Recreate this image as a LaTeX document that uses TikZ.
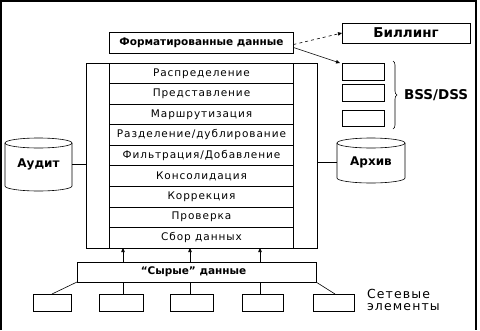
\documentclass[tikz,border=0pt]{standalone}
\usepackage{fontspec}
\setmainfont{DejaVu Sans}
\newfontfamily\rowfont[LetterSpace=9]{DejaVu Sans}
\usetikzlibrary{arrows.meta,decorations.pathreplacing}
\begin{document}
\begin{tikzpicture}[x=1pt,y=-1pt,
  every node/.style={inner sep=0pt, outer sep=0pt},
  box/.style={draw, line width=0.7pt, rectangle},
  rowbox/.style={box, minimum width=184pt, minimum height=20.55pt, font=\rowfont\fontsize{10.5}{12}\selectfont},
  headbox/.style={box, font=\bfseries\fontsize{10.5}{12}\selectfont},
  smallbox/.style={box, minimum width=42pt},
  nebox/.style={box, minimum height=17pt},
  conn/.style={line width=0.6pt},
  uparrow/.style={conn, -{Triangle[length=4pt,width=3.5pt]}},
  cyltext/.style={font=\bfseries\fontsize{12}{14}\selectfont}
]
\useasboundingbox (0,0) rectangle (480,330);
\draw[line width=1.6pt] (1,330) -- (1,0.8) -- (476,0.8) -- (476,330);

% main stack
\node[box, minimum width=231pt, minimum height=185pt] (outer) at (201.5,155.5) {};
\foreach \t [count=\i from 0] in {Распределение,Представление,Маршрутизация,Разделение/дублирование,Фильтрация/Добавление,Консолидация,Коррекция,Проверка,Сбор данных}{
  \node[rowbox, fill=white] (r\i) at (201.5,{63+20.55*(\i+0.5)}) {\t};
}

% formatted data
\node[headbox, minimum width=184pt, minimum height=21pt] (fmt) at (201.5,42.5) {Форматированные данные};
\node[box, minimum width=128pt, minimum height=20pt, font=\bfseries\fontsize{13.5}{15}\selectfont] (bill) at (406,33) {Биллинг};
\node[smallbox, minimum height=17pt] (b1) at (363,71.5) {};
\node[smallbox, minimum height=17pt] (b2) at (363,92.5) {};
\node[smallbox, minimum height=16pt] (b3) at (363,118) {};
\draw[conn, decorate, decoration={brace, amplitude=4pt}] (393,61) -- (393,129) coordinate[midway] (bm);
\node[anchor=west, font=\bfseries\fontsize{13.5}{15}\selectfont] (bss) at (404,95) {BSS/DSS};

\draw[conn, dashed, -{Triangle[length=4pt,width=3.5pt]}] ([yshift=-2pt]fmt.east) -- (bill.west);
\draw[conn, -{Triangle[length=4pt,width=3.5pt]}] ([yshift=-5pt]fmt.east) -- ([xshift=-2pt]b1.north west);

% cylinders
\node[cyltext, minimum width=67pt, minimum height=20pt] (audit) at (38.5,164) {Аудит};
\draw[conn] (38.5,143) ellipse (33.5pt and 5pt);
\draw[conn] (5,143) -- (5,186) arc[start angle=180, end angle=360, x radius=33.5pt, y radius=5pt] -- (72,143);
\node[cyltext, minimum width=68pt, minimum height=20pt] (arch) at (371,162) {Архив};
\draw[conn] (371,143) ellipse (34pt and 5pt);
\draw[conn] (337,143) -- (337,178) arc[start angle=180, end angle=360, x radius=34pt, y radius=5pt] -- (405,143);
\draw[conn] (audit.east) -- (audit.east -| outer.west);
\draw[conn] (arch.west) -- (arch.west -| outer.east);

% raw data
\node[headbox, minimum width=239pt, minimum height=20pt, font=\bfseries\fontsize{10.5}{12}\selectfont] (raw) at (196.5,272) {\kern-6pt“Сырые” данные};
\foreach \x in {123,190,260}{
  \draw[uparrow] (raw.north -| \x,0) -- (outer.south -| \x,0);
}

% network elements
\node[nebox, minimum width=38pt] (e1) at (52,302.5) {};
\node[nebox, minimum width=44pt] (e2) at (121,302.5) {};
\node[nebox, minimum width=43pt] (e3) at (191.5,302.5) {};
\node[nebox, minimum width=41pt] (e4) at (262.5,302.5) {};
\node[nebox, minimum width=41pt] (e5) at (333.5,302.5) {};
\draw[conn] (raw.south west) -- (e1.north);
\draw[conn] (e2.north -| 123,0) -- (raw.south -| 123,0);
\draw[conn] (e3.north -| 190,0) -- (raw.south -| 190,0);
\draw[conn] (e4.north -| 260,0) -- (raw.south -| 260,0);
\draw[conn] (raw.south east) -- ([xshift=1.5pt]e5.north);
\node[anchor=west, align=left, font=\rowfont\fontsize{12.5}{12.5}\selectfont] (ne) at (367,300) {Сетевые\\элементы};
\end{tikzpicture}
\end{document}
